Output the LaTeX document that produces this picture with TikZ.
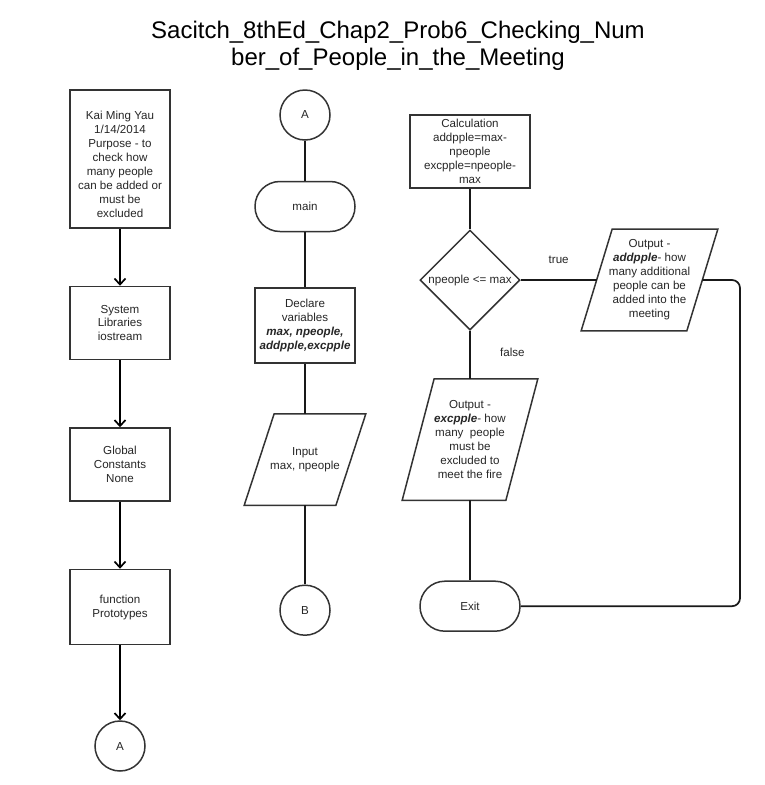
\documentclass[tikz,border=0pt]{standalone}
\usepackage{fontspec}
\setmainfont{Liberation Sans}
\usetikzlibrary{positioning}
\usetikzlibrary{arrows.meta}
\usetikzlibrary{shapes.geometric}

% parallelogram drawn on the box of a node
\newcommand{\drawio}[2]{\draw[draw=black!80,line width=1.5pt] ([xshift=#2]#1.north west) -- (#1.north east) -- ([xshift=-#2]#1.south east) -- (#1.south west) -- cycle;}

\begin{document}
\begin{tikzpicture}[x=1pt,y=-1pt,line width=1.7pt,>={Straight Barb[length=6pt,width=11pt]},
	every node/.style={font=\fontsize{11.6}{14}\selectfont,text=black!85,align=center},
	proc node/.style={rectangle,draw=black!80,line width=1.5pt,minimum width=100pt,inner sep=2pt},
	term node/.style={rectangle,rounded corners=24.9pt,draw=black!80,line width=1.5pt,minimum width=100pt,minimum height=50pt},
	conn node/.style={circle,draw=black!80,line width=1.5pt,minimum size=50pt,inner sep=0pt},
	io node/.style={rectangle,inner sep=0pt},
	dec node/.style={diamond,draw=black!80,line width=1.5pt,minimum width=100pt,minimum height=100pt,inner sep=0pt}]

	\useasboundingbox (0,0) rectangle (764,785);
	\node[font=\fontsize{24}{27}\selectfont,text=black] (title) at (398,46) {Sacitch\_8thEd\_Chap2\_Prob6\_Checking\_Num\\ber\_of\_People\_in\_the\_Meeting};

	% left column
	\node[proc node,minimum height=138pt] (purpose) at (120,159) {\rule{0pt}{20pt}Kai Ming Yau\\1/14/2014\\Purpose - to\\check how\\many people\\can be added or\\must be\\excluded};
	\node[proc node,minimum height=73pt] (syslib) [below=57pt of purpose] {System\\Libraries\\iostream};
	\node[proc node,minimum height=73pt] (globc) [below=67pt of syslib] {Global\\Constants\\None};
	\node[proc node,minimum height=75pt] (proto) [below=67pt of globc] {function\\Prototypes};
	\node[conn node] (conna) [below=75pt of proto] {A};

	% middle column
	\node[conn node] (connb) at (305,115) {A};
	\node[term node] (main) [below=40pt of connb] {main};
	\node[proc node,minimum height=75pt] (declare) [below=55pt of main] {Declare\\variables\\\textbf{\textit{max, npeople,}}\\\textbf{\textit{addpple,excpple}}};
	\node[io node,minimum width=120pt,minimum height=90pt] (input) [below=50pt of declare] {Input\\max, npeople};
	\drawio{input}{30pt}
	\node[conn node] (connc) [below=79pt of input] {B};

	% right column
	\node[proc node,minimum width=120pt,minimum height=73pt] (calc) at (470,151.5) {Calculation\\addpple=max-\\npeople\\excpple=npeople-\\max};
	\node[dec node] (check) at (470,280) {};
	\node at (check) {npeople <= max};
	\node[io node,minimum width=134pt,minimum height=120pt] (outexc) [below=48pt of check] {Output -\\\textbf{\textit{excpple}}- how\\many\ \ people\\must be\\excluded to\\meet the fire};
	\drawio{outexc}{32pt}
	\node[term node] (exit) [below=80pt of outexc] {Exit};
	\node[io node,minimum width=135pt,minimum height=100pt] (outadd) at (649.5,280) {Output -\\\textbf{\textit{addpple}}- how\\many additional\\people can be\\added into the\\meeting};
	\drawio{outadd}{31pt}
	\coordinate (loop) at (740,280);

	\path[->,draw=black]
	(purpose)	edge (syslib)
	(syslib)	edge (globc)
	(globc)		edge (proto)
	(proto)		edge (conna);

	\draw[black!90] (connb) -- (main);
	\draw[black!90] (main) -- (declare);
	\draw[black!90] (declare) -- (input);
	\draw[black!90] (input) -- (connc);

	\draw[black!90] (calc) -- (check);
	\draw[black!90] (check.south) -- node[right=26pt,pos=0.45] {false} (outexc);
	\draw[black!90] (outexc) -- (exit);
	\draw[black!90] (check.east) -- node[above=12pt] {true} ([xshift=15.5pt]outadd.west);
	\draw[black!90,rounded corners=8pt] ([xshift=-15.5pt]outadd.east) -| (loop |- exit) -- (exit.east);
\end{tikzpicture}
\end{document}
